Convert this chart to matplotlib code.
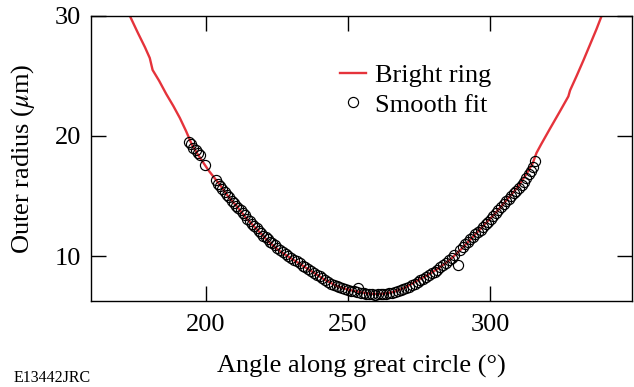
import numpy as np
import matplotlib
matplotlib.use("Agg")
import matplotlib.pyplot as plt

plt.rcParams["font.family"] = ["Liberation Serif", "DejaVu Serif"]
plt.rcParams["mathtext.fontset"] = "stix"

# bright ring trace (angle in deg, radius in um)
ring_angle = [173.2, 176.0, 178.5, 180.2, 181.2, 183.5, 186.0, 188.5, 190.8, 193.0,
              195.0, 197.0, 199.0, 201.0, 203.0, 205.0, 208.0, 211.0, 214.0, 218.0,
              222.0, 226.0, 230.0, 234.0, 238.0, 242.0, 246.0, 250.0, 254.0, 258.0,
              262.0, 266.0, 270.0, 274.0, 278.0, 282.0, 286.0, 290.0, 294.0, 298.0,
              302.0, 306.0, 310.0, 313.0, 315.0, 316.4, 318.0, 321.1, 324.5, 327.6,
              328.2, 330.5, 332.9, 335.2, 337.5, 339.3]
ring_radius = [30.0, 28.6, 27.4, 26.5, 25.5, 24.6, 23.5, 22.5, 21.5, 20.4,
               19.3, 18.5, 17.8, 17.1, 16.5, 15.9, 14.9, 14.1, 13.2, 12.2,
               11.2, 10.4, 9.8, 9.2, 8.6, 8.0, 7.5, 7.2, 7.0, 6.85,
               6.85, 7.0, 7.35, 7.9, 8.4, 9.0, 9.7, 10.6, 11.6, 12.6,
               13.6, 14.7, 15.8, 16.9, 17.7, 18.6, 19.3, 20.6, 22.0, 23.3,
               23.8, 25.0, 26.3, 27.6, 28.9, 30.0]

# smooth fit points
fit_angle = [194.0, 194.8, 195.6, 196.4, 197.2, 198.0, 199.6,
             203.4, 204.2, 205.0, 205.8, 206.6, 207.4, 208.2, 209.0, 209.8, 210.6,
             211.4, 212.2, 213.0, 213.8, 214.6, 215.4, 216.2, 217.0, 217.8, 218.6,
             219.4, 220.2, 221.0, 221.8, 222.6, 223.4, 224.2, 225.0, 226.0, 227.0,
             228.0, 229.0, 230.0, 231.0, 232.0, 233.0, 234.0, 235.0, 236.0, 237.0,
             238.0, 239.0, 240.0, 241.0, 242.0, 243.0, 244.0, 245.0, 246.0, 247.0,
             248.0, 249.0, 250.0, 251.0, 252.0, 253.0, 253.6, 254.5, 255.5, 256.5,
             257.5, 258.5, 259.5, 260.5, 261.5, 262.5, 263.5, 264.5, 265.5, 266.5,
             267.5, 268.5, 269.5, 270.5, 271.5, 272.5, 273.5, 274.5, 275.5, 276.5,
             277.5, 278.5, 279.5, 280.5, 281.5, 282.5, 283.5, 284.5, 285.5, 286.5,
             287.5, 288.6, 289.5, 290.4, 291.3, 292.2, 293.1, 294.0, 294.9, 295.8,
             296.7, 297.6, 298.5, 299.4, 300.3, 301.2, 302.1, 303.0, 303.9, 304.8,
             305.7, 306.6, 307.5, 308.4, 309.3, 310.2, 311.1, 312.0, 312.8, 313.6,
             314.4, 315.0, 315.7]
fit_radius = [19.5, 19.3, 19.0, 18.8, 18.6, 18.4, 17.6,
              16.3, 16.0, 15.8, 15.6, 15.3, 15.1, 14.9, 14.6, 14.4, 14.2,
              14.0, 13.8, 13.6, 13.4, 13.1, 12.9, 12.7, 12.5, 12.3, 12.1,
              11.9, 11.7, 11.6, 11.4, 11.2, 11.1, 10.9, 10.7, 10.5, 10.35,
              10.2, 10.0, 9.85, 9.7, 9.55, 9.4, 9.2, 9.05, 8.9, 8.75,
              8.6, 8.45, 8.3, 8.15, 8.0, 7.85, 7.7, 7.6, 7.5, 7.4,
              7.3, 7.25, 7.2, 7.1, 7.05, 7.0, 7.3, 6.95, 6.9, 6.85,
              6.8, 6.8, 6.75, 6.8, 6.8, 6.85, 6.85, 6.9, 6.95, 7.0,
              7.05, 7.15, 7.25, 7.35, 7.45, 7.55, 7.7, 7.85, 8.0, 8.1,
              8.25, 8.4, 8.55, 8.7, 8.85, 9.05, 9.25, 9.45, 9.65, 9.85,
              10.05, 9.25, 10.5, 10.75, 11.0, 11.2, 11.4, 11.6, 11.8, 12.0,
              12.2, 12.45, 12.65, 12.85, 13.1, 13.35, 13.6, 13.85, 14.1, 14.3,
              14.55, 14.75, 15.0, 15.25, 15.45, 15.7, 15.9, 16.2, 16.5, 16.8,
              17.1, 17.4, 17.9]

fig = plt.figure(figsize=(6.34, 3.87), dpi=100)
ax = fig.add_axes([0.1435, 0.2222, 0.8533, 0.7365])

ax.plot(ring_angle, ring_radius, color="#e5333b", lw=1.7, label="Bright ring", zorder=2)
ax.plot(fit_angle, fit_radius, ls="none", marker="o", ms=7.3, mfc="none",
        mec="black", mew=0.85, label="Smooth fit", zorder=3)

ax.set_xlim(159.5, 350)
ax.set_ylim(6.25, 30)
ax.set_xticks([200, 250, 300])
ax.set_yticks([10, 20, 30])
ax.tick_params(direction="in", length=11, width=1, top=True, right=True,
               labelsize=19, colors="black")
ax.tick_params(axis="x", pad=9)
ax.tick_params(axis="y", pad=7)
for s in ax.spines.values():
    s.set_linewidth(1)

ax.set_xlabel("Angle along great circle (°)", fontsize=19)
ax.set_ylabel(r"Outer radius ($\mu$m)", fontsize=19)
ax.xaxis.set_label_coords(0.50, -0.19)
ax.yaxis.set_label_coords(-0.10, 0.5)

ax.legend(loc="upper left", bbox_to_anchor=(0.46, 0.832), frameon=False,
          fontsize=19, handlelength=1.0, handletextpad=0.35, labelspacing=0.22,
          borderaxespad=0, borderpad=0)

fig.text(0.022, 0.012, "E13442JRC", fontsize=11.5)

fig.savefig("out.png", dpi=100)
